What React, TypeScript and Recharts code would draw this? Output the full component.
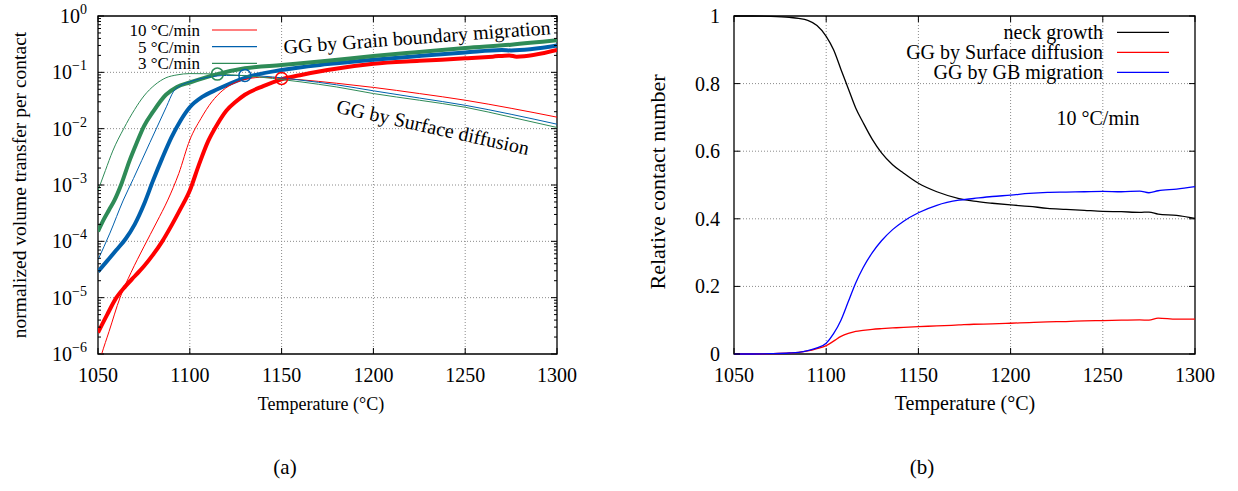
import React from 'react';
import {
  LineChart, Line, XAxis, YAxis, CartesianGrid, Legend, ReferenceArea, ReferenceDot,
} from 'recharts';

const FONT = '"Liberation Serif", "Times New Roman", serif';

// ---- (a) volume transfer per contact, log scale ----
const X_TICKS = [1050, 1100, 1150, 1200, 1250, 1300];
const DECADES = [1e-6, 1e-5, 1e-4, 1e-3, 1e-2, 1e-1, 1];
const DECADE_EXP = ['−6', '−5', '−4', '−3', '−2', '−1', '0'];
const MINOR = DECADES.slice(0, -1).flatMap(d => [2, 3, 4, 5, 6, 7, 8, 9].map(k => d * k));

// grain boundary migration (thick)
const GB10_T = [1050, 1055, 1060, 1065, 1070, 1075, 1080, 1085, 1090, 1095, 1100, 1105, 1110, 1115, 1120, 1125, 1130, 1140, 1150, 1160, 1175, 1200, 1225, 1250, 1265, 1274, 1278, 1300];
const GB10_V = [2.4e-6, 5e-6, 1e-5, 1.6e-5, 2.4e-5, 3.6e-5, 5.8e-5, 1e-4, 1.9e-4, 3.8e-4, 8e-4, 2.3e-3, 6e-3, 1.2e-2, 2.1e-2, 3e-2, 4e-2, 5.7e-2, 7.5e-2, 8.9e-2, 0.11, 0.142, 0.16, 0.177, 0.19, 0.2, 0.19, 0.25];
const GB5_T = [1050, 1055, 1060, 1065, 1070, 1075, 1080, 1085, 1090, 1095, 1100, 1107, 1115, 1130, 1150, 1175, 1200, 1225, 1250, 1270, 1275, 1300];
const GB5_V = [2.9e-5, 4.5e-5, 7e-5, 1.1e-4, 2e-4, 4.5e-4, 1.2e-3, 3e-3, 7e-3, 1.4e-2, 2.4e-2, 3.7e-2, 5e-2, 8e-2, 0.11, 0.14, 0.168, 0.195, 0.225, 0.25, 0.245, 0.3];
const GB3_T = [1050, 1053, 1056, 1059, 1063, 1067, 1071, 1075, 1080, 1087, 1093, 1100, 1115, 1130, 1150, 1175, 1200, 1225, 1250, 1275, 1300];
const GB3_V = [1.5e-4, 2.4e-4, 3.6e-4, 5.4e-4, 1.1e-3, 2.6e-3, 5.5e-3, 1.1e-2, 2e-2, 4e-2, 5.5e-2, 6.6e-2, 9.3e-2, 0.118, 0.135, 0.16, 0.195, 0.23, 0.27, 0.31, 0.37];

// surface diffusion (thin)
const SD10_T = [1050, 1052, 1056, 1062, 1068, 1075, 1082, 1088, 1094, 1100, 1106, 1112, 1118, 1124, 1132, 1140, 1150, 1160, 1180, 1200, 1225, 1250, 1275, 1300];
const SD10_V = [6e-7, 1e-6, 2.5e-6, 1e-5, 2.8e-5, 8e-5, 2.2e-4, 5.4e-4, 1.6e-3, 6.3e-3, 1.5e-2, 3e-2, 4.8e-2, 6.4e-2, 7.7e-2, 8.2e-2, 7.8e-2, 7.4e-2, 6.4e-2, 5.4e-2, 4.2e-2, 3.2e-2, 2.3e-2, 1.6e-2];
const SD5_T = [1050, 1056.5, 1063.8, 1069.3, 1078.3, 1087.4, 1091, 1095, 1100, 1110, 1120, 1130, 1145, 1160, 1180, 1200, 1225, 1250, 1275, 1300];
const SD5_V = [4.7e-5, 1.4e-4, 5.4e-4, 1.3e-3, 5.7e-3, 2.5e-2, 4.5e-2, 5.8e-2, 6.8e-2, 8.2e-2, 8.8e-2, 8.8e-2, 8.3e-2, 7.3e-2, 6e-2, 4.7e-2, 3.5e-2, 2.6e-2, 1.8e-2, 1.2e-2];
const SD3_T = [1050, 1054, 1058, 1064, 1070, 1075, 1081, 1087, 1093, 1100, 1115, 1130, 1145, 1160, 1180, 1200, 1225, 1250, 1275, 1300];
const SD3_V = [8e-4, 1.8e-3, 4e-3, 1e-2, 2.2e-2, 3.8e-2, 6e-2, 8e-2, 9e-2, 9.5e-2, 9.3e-2, 8.7e-2, 7.8e-2, 6.8e-2, 5.5e-2, 4.2e-2, 3.2e-2, 2.4e-2, 1.6e-2, 1.05e-2];

// crossover points (circles)
const CROSS_T = [1150, 1130, 1115];
const CROSS_V = [7.8e-2, 8.8e-2, 9.3e-2];

const RATES = ['10 °C/min', '5 °C/min', '3 °C/min'];
const RATE_COLORS = ['#ff0000', '#0060ad', '#2e8b57'];

// ---- (b) relative contact number, 10 °C/min ----
const R_T = [1050, 1060, 1070, 1080, 1085, 1090, 1095, 1100, 1104, 1108, 1112, 1116, 1120, 1125, 1130, 1136, 1142, 1150, 1160, 1172, 1180, 1190, 1200, 1210, 1220, 1230, 1240, 1250, 1260, 1270, 1275, 1280, 1290, 1300];
const R_NECK = [1.0, 1.0, 0.999, 0.996, 0.993, 0.987, 0.972, 0.94, 0.9, 0.842, 0.785, 0.728, 0.685, 0.635, 0.595, 0.56, 0.535, 0.505, 0.48, 0.46, 0.452, 0.446, 0.441, 0.437, 0.431, 0.428, 0.425, 0.422, 0.421, 0.419, 0.42, 0.414, 0.41, 0.401];
const R_SD = [0, 0, 0.001, 0.003, 0.005, 0.009, 0.016, 0.025, 0.038, 0.052, 0.061, 0.067, 0.07, 0.073, 0.075, 0.077, 0.079, 0.081, 0.083, 0.086, 0.088, 0.089, 0.091, 0.093, 0.095, 0.096, 0.098, 0.099, 0.1, 0.101, 0.1, 0.106, 0.103, 0.103];
const R_GB = [0, 0, 0.001, 0.003, 0.005, 0.01, 0.018, 0.032, 0.06, 0.1, 0.155, 0.21, 0.255, 0.3, 0.335, 0.368, 0.393, 0.418, 0.44, 0.455, 0.46, 0.466, 0.47, 0.475, 0.478, 0.479, 0.48, 0.481, 0.48, 0.482, 0.477, 0.483, 0.488, 0.495];
const R_NAMES = ['neck growth', 'GG by Surface diffusion', 'GG by GB migration'];
const R_Y_TICKS = [0, 0.2, 0.4, 0.6, 0.8, 1];
const R_Y_LABELS = ['0', '0.2', '0.4', '0.6', '0.8', '1'];

const zip = (ts: number[], vs: number[]) => ts.map((t, i) => ({ t, v: vs[i] }));

// plot geometry
const L_W = 600, L_H = 440, L_YW = 98, L_XH = 86;
const L_MARGIN = { top: 16, right: 43, bottom: 0, left: 0 };
const L_PW = L_W - L_MARGIN.right - L_YW;
const L_PH = L_H - L_MARGIN.top - L_XH;

const R_W = 618, R_H = 440, R_YW = 114, R_XH = 86;
const R_MARGIN = { top: 16, right: 43, bottom: 0, left: 0 };
const R_PW = R_W - R_MARGIN.right - R_YW;
const R_PH = R_H - R_MARGIN.top - R_XH;

// gnuplot style: ticks point inwards and are mirrored on the opposite side
function makeXTick(plotH: number, fontSize: number) {
  return (props: any) => {
    const { x, y, payload } = props;
    return (
      <g>
        <line x1={x} x2={x} y1={y} y2={y - 6} stroke="#000" />
        <line x1={x} x2={x} y1={y - plotH} y2={y - plotH + 6} stroke="#000" />
        <text x={x} y={y + 28} textAnchor="middle" fontSize={fontSize} fontFamily={FONT} fill="#000">
          {payload.value}
        </text>
      </g>
    );
  };
}

function LogTick(props: any) {
  const { x, y, payload } = props;
  const idx = DECADES.indexOf(payload.value);
  const len = idx >= 0 ? 6 : 3;
  return (
    <g>
      <line x1={x} x2={x + len} y1={y} y2={y} stroke="#000" />
      <line x1={x + L_PW} x2={x + L_PW - len} y1={y} y2={y} stroke="#000" />
      {idx >= 0 && (
        <text x={x - 11} y={y + 7} textAnchor="end" fontSize={20} fontFamily={FONT} fill="#000">
          10<tspan dy={-9} fontSize={14}>{DECADE_EXP[idx]}</tspan>
        </text>
      )}
    </g>
  );
}

function LinTick(props: any) {
  const { x, y, payload } = props;
  const idx = R_Y_TICKS.indexOf(payload.value);
  return (
    <g>
      <line x1={x} x2={x + 6} y1={y} y2={y} stroke="#000" />
      <line x1={x + R_PW} x2={x + R_PW - 6} y1={y} y2={y} stroke="#000" />
      <text x={x - 14} y={y + 7} textAnchor="end" fontSize={20} fontFamily={FONT} fill="#000">
        {R_Y_LABELS[idx]}
      </text>
    </g>
  );
}

// legend keeps the series order of the original (recharts sorts by name otherwise)
function LeftLegend(props: any) {
  const items = (props.payload || [])
    .filter((p: any) => RATES.includes(p.value))
    .sort((a: any, b: any) => RATES.indexOf(a.value) - RATES.indexOf(b.value));
  return (
    <svg width={270} height={80} style={{ overflow: 'visible', display: 'block' }}>
      {items.map((p: any, i: number) => {
        const y = 30 + i * 16.7;
        return (
          <g key={p.value}>
            <text x={200} y={y + 6} textAnchor="end" fontSize={17} fontFamily={FONT} fill="#000">{p.value}</text>
            <line x1={212} x2={257} y1={y} y2={y} stroke={p.color} strokeWidth={1.2} />
          </g>
        );
      })}
    </svg>
  );
}

function RightLegend(props: any) {
  const items = (props.payload || [])
    .slice()
    .sort((a: any, b: any) => R_NAMES.indexOf(a.value) - R_NAMES.indexOf(b.value));
  return (
    <svg width={560} height={90} style={{ overflow: 'visible', display: 'block' }}>
      {items.map((p: any, i: number) => {
        const y = 32.3 + i * 20;
        return (
          <g key={p.value}>
            <text x={483} y={y + 7} textAnchor="end" fontSize={20} fontFamily={FONT} fill="#000">{p.value}</text>
            <line x1={497} x2={549} y1={y} y2={y} stroke={p.color} strokeWidth={1.3} />
          </g>
        );
      })}
    </svg>
  );
}

const GRID = { stroke: '#8a8a8a', strokeDasharray: '1 2', strokeWidth: 1 };

function VolumeChart() {
  const thick = [zip(GB10_T, GB10_V), zip(GB5_T, GB5_V), zip(GB3_T, GB3_V)];
  const thin = [zip(SD10_T, SD10_V), zip(SD5_T, SD5_V), zip(SD3_T, SD3_V)];
  return (
    <LineChart width={L_W} height={L_H} margin={L_MARGIN}>
      <CartesianGrid {...GRID} horizontalValues={DECADES.slice(1, -1)} verticalValues={X_TICKS.slice(1, -1)} />
      <XAxis
        type="number" dataKey="t" domain={[1050, 1300]} ticks={X_TICKS} interval={0}
        height={L_XH} axisLine={false} tickLine={false} tickSize={0} tickMargin={0}
        tick={makeXTick(L_PH, 20)} allowDataOverflow
      />
      <YAxis
        scale="log" domain={[1e-6, 1]} ticks={[...DECADES, ...MINOR]} interval={0}
        width={L_YW} axisLine={false} tickLine={false} tickSize={0} tickMargin={0}
        tick={LogTick} allowDataOverflow
      />
      <ReferenceArea x1={1050} x2={1300} y1={1e-6} y2={1} fill="none" stroke="#000" strokeWidth={1.3} />
      {thick.map((d, i) => (
        <Line key={'gb' + i} data={d} dataKey="v" name={RATES[i]} type="monotone" stroke={RATE_COLORS[i]}
          strokeWidth={4} dot={false} isAnimationActive={false} />
      ))}
      {thin.map((d, i) => (
        <Line key={'sd' + i} data={d} dataKey="v" name={RATES[i] + ' sd'} legendType="none" type="monotone"
          stroke={RATE_COLORS[i]} strokeWidth={1} dot={false} isAnimationActive={false} />
      ))}
      {CROSS_T.map((t, i) => (
        <ReferenceDot key={'c' + i} x={t} y={CROSS_V[i]} r={6} fill="none" stroke={RATE_COLORS[i]} strokeWidth={1.5} />
      ))}
      <Legend layout="horizontal" align="center" verticalAlign="middle" content={LeftLegend}
        wrapperStyle={{ left: 0, top: 0, width: 270, height: 80 }} />
    </LineChart>
  );
}

function ContactChart() {
  const data = R_T.map((t, i) => ({ t, neck: R_NECK[i], sd: R_SD[i], gb: R_GB[i] }));
  return (
    <LineChart width={R_W} height={R_H} margin={R_MARGIN} data={data}>
      <CartesianGrid {...GRID} horizontalValues={R_Y_TICKS.slice(1, -1)} verticalValues={X_TICKS.slice(1, -1)} />
      <XAxis
        type="number" dataKey="t" domain={[1050, 1300]} ticks={X_TICKS} interval={0}
        height={R_XH} axisLine={false} tickLine={false} tickSize={0} tickMargin={0}
        tick={makeXTick(R_PH, 20)}
      />
      <YAxis
        domain={[0, 1]} ticks={R_Y_TICKS} interval={0}
        width={R_YW} axisLine={false} tickLine={false} tickSize={0} tickMargin={0}
        tick={LinTick}
      />
      <ReferenceArea x1={1050} x2={1300} y1={0} y2={1} fill="none" stroke="#000" strokeWidth={1.3} />
      <Line dataKey="neck" name={R_NAMES[0]} type="monotone" stroke="#000000" strokeWidth={1.3} dot={false} isAnimationActive={false} />
      <Line dataKey="sd" name={R_NAMES[1]} type="monotone" stroke="#ff0000" strokeWidth={1.3} dot={false} isAnimationActive={false} />
      <Line dataKey="gb" name={R_NAMES[2]} type="monotone" stroke="#0000ff" strokeWidth={1.3} dot={false} isAnimationActive={false} />
      <Legend layout="horizontal" align="center" verticalAlign="middle" content={RightLegend}
        wrapperStyle={{ left: 0, top: 0, width: 560, height: 90 }} />
    </LineChart>
  );
}

export default function App() {
  return (
    <div style={{ position: 'absolute', left: 0, top: 0, width: 1238, height: 491, background: '#fff', fontFamily: FONT }}>
      <div style={{ position: 'absolute', left: 0, top: 0 }}>
        <VolumeChart />
      </div>
      <div style={{ position: 'absolute', left: 620, top: 0 }}>
        <ContactChart />
      </div>
      <svg width={1238} height={491} style={{ position: 'absolute', left: 0, top: 0, pointerEvents: 'none' }}
        fontFamily={FONT} fill="#000">
        <text x={321} y={410} textAnchor="middle" fontSize={18}>Temperature (°C)</text>
        <text transform="translate(26 185) rotate(-90)" textAnchor="middle" fontSize={19.5}>
          normalized volume transfer per contact
        </text>
        <text transform="translate(417 37) rotate(-4.2)" textAnchor="middle" dominantBaseline="central" fontSize={20}>
          GG by Grain boundary migration
        </text>
        <text transform="translate(433 127) rotate(12.5)" textAnchor="middle" dominantBaseline="central" fontSize={20}>
          GG by Surface diffusion
        </text>
        <text x={965} y={410} textAnchor="middle" fontSize={20}>Temperature (°C)</text>
        <text transform="translate(665 182) rotate(-90)" textAnchor="middle" fontSize={22}>
          Relative contact number
        </text>
        <text x={1098} y={125} textAnchor="middle" fontSize={20}>10 °C/min</text>
        <text x={285} y={474} textAnchor="middle" fontSize={21}>(a)</text>
        <text x={922} y={474} textAnchor="middle" fontSize={21}>(b)</text>
      </svg>
    </div>
  );
}
